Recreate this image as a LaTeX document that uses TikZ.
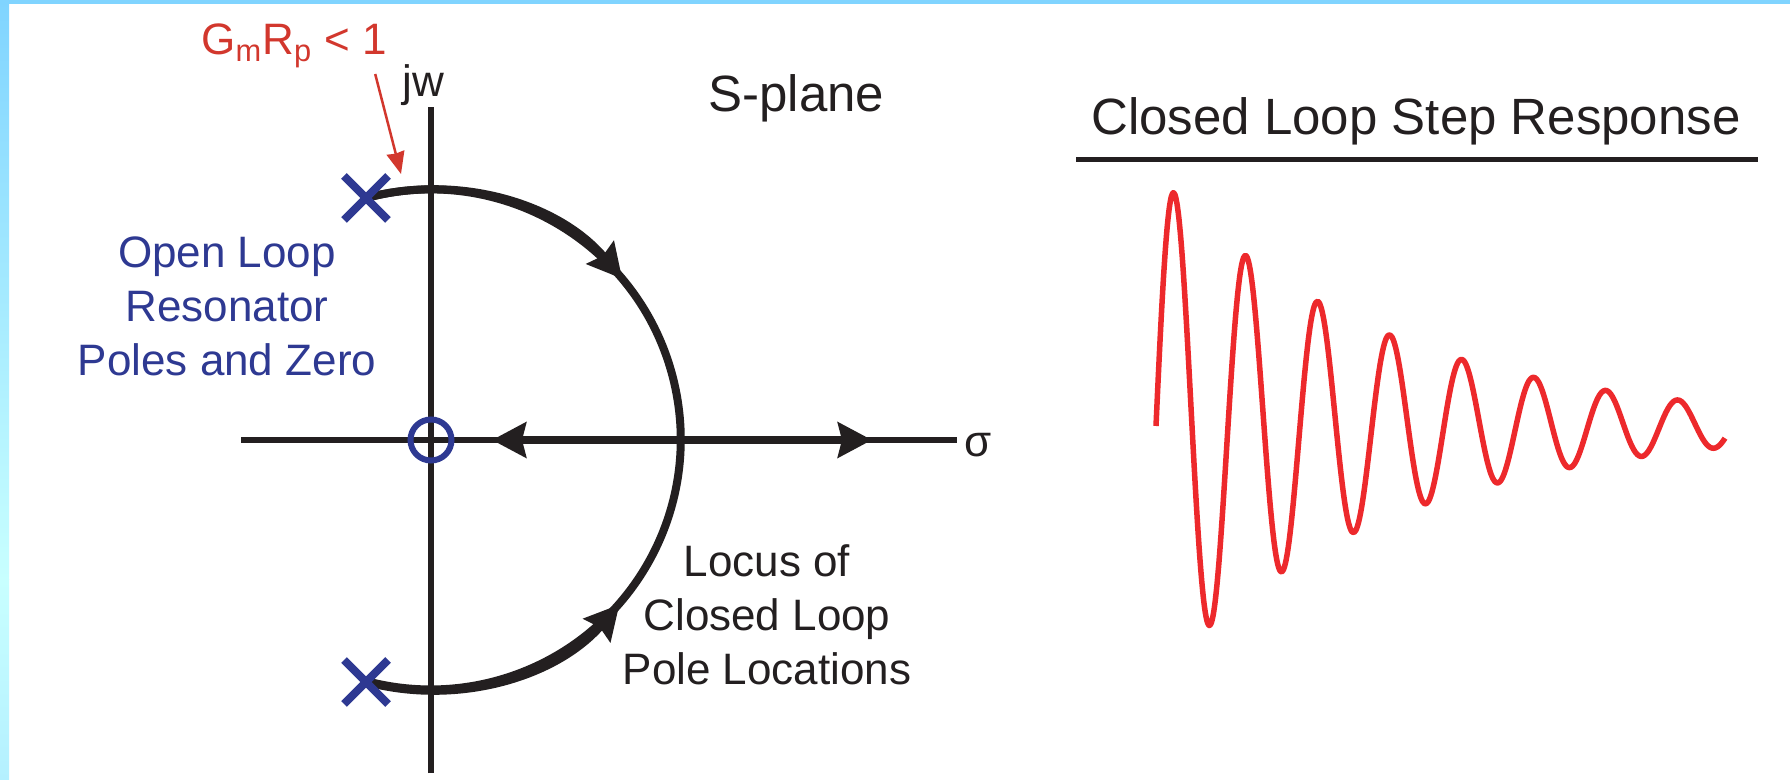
\documentclass[tikz,border=0pt]{standalone}
\usepackage{fontspec}
\setmainfont{Liberation Sans}
\usetikzlibrary{arrows.meta,shapes.misc}
\definecolor{axisblack}{RGB}{35,31,32}
\definecolor{poleblue}{RGB}{46,57,146}
\definecolor{gainred}{RGB}{210,55,45}
\definecolor{wavered}{RGB}{237,41,44}
\definecolor{frametop}{RGB}{128,212,255}
\definecolor{framemid}{RGB}{200,255,255}
\definecolor{framebot}{RGB}{180,240,255}

\begin{document}
\begin{tikzpicture}[x=0.5pt,y=-0.5pt,
  every node/.style={font=\fontsize{22}{27}\selectfont,text=axisblack,inner sep=0pt},
  axis/.style={axisblack,line width=2.75pt},
  locus/.style={axisblack,line width=4pt},
  locarrow/.style={locus,-{Stealth[length=17pt,width=17.5pt,inset=2pt]}},
  pole/.style={cross out,draw=poleblue,line width=4pt,minimum size=18pt},
  zero/.style={circle,draw=poleblue,line width=3pt,minimum size=20.5pt}]
\useasboundingbox (0,0) rectangle (1790,780);
% frame
\fill[white] (0,0) rectangle (1790,780);
\fill[frametop] (0,0) rectangle (1790,4);
\shade[top color=frametop,bottom color=framemid] (0,0) rectangle (9,580);
\shade[top color=framemid,bottom color=framebot] (0,580) rectangle (9,780);
% s-plane axes
\coordinate (origin) at (431,440);
\coordinate (ytop) at (431,107);
\coordinate (ybot) at (431,773);
\coordinate (xleft) at (241,440);
\coordinate (xright) at (957,440);
\draw[axis] (ybot) -- (ytop);
\draw[axis] (xleft) -- (xright);
% root locus
\coordinate (p1) at (366,198);
\coordinate (p2) at (366,682);
\coordinate (brk) at (681,440);
\coordinate (zl) at (492,440);
\coordinate (zr) at (872,440);
\draw[locus] (p1) arc[start angle=-105,end angle=105,radius=250];
\draw[locarrow] (p1) arc[start angle=-105,end angle=-40,radius=250];
\draw[locarrow] (p2) arc[start angle=105,end angle=41,radius=250];
\draw[locarrow] (brk) -- (zl);
\draw[locarrow] (brk) -- (zr);
\node[zero] (zero) at (origin) {};
\node[pole] (pole1) at (p1) {};
\node[pole] (pole2) at (p2) {};
% labels
\node[anchor=base west] (jw) at (402,97) {jw};
\node[anchor=base west] (sigma) at (964,457) {σ};
\node[anchor=base west,font=\fontsize{25.5}{30}\selectfont] (splane) at (708,112) {S-plane};
\node[anchor=base west,text=gainred] (gm) at (201,55) {G\textsubscript{m}R\textsubscript{p} < 1};
\coordinate (gaintip) at (401,174);
\draw[gainred,line width=1.25pt,-{Stealth[length=11pt,width=9pt,inset=0.5pt]}] ([shift={(-6pt,-3pt)}]gm.south east) -- (gaintip);
\node[anchor=north,align=center,text=poleblue] (openlbl) at (227,236) {Open Loop\\Resonator\\Poles and Zero};
\node[anchor=north,align=center] (locuslbl) at (767,544) {Locus of\\Closed Loop\\Pole Locations};
% step response
\node[anchor=base,font=\fontsize{25.5}{30}\selectfont] (title) at (1416,135) {Closed Loop Step Response};
\coordinate (ulleft) at (1076,160);
\coordinate (ulright) at (1758,160);
\draw[axisblack,line width=2.5pt] (ulleft) -- (ulright);
\draw[wavered,line width=2.75pt,line join=round] plot[domain=0:569,samples=300,smooth]
  ({1156+\x},{426-252*exp(-0.00435*\x)*sin(5*\x)});
\end{tikzpicture}
\end{document}
